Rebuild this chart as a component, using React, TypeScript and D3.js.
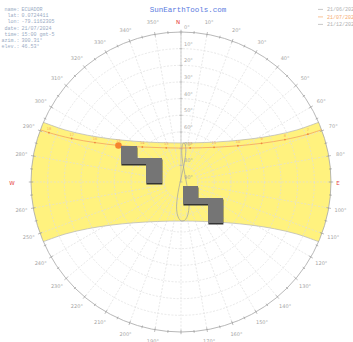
import React from 'react';
import * as d3 from 'd3';

// ---------- data ----------
const infoLabels = ['name:', 'lat:', 'lon:', 'date:', 'time:', 'azim.:', 'elev.:'];
const infoValues = ['ECUADOR', '0.0724411', '-79.1162305', '21/07/2024', '15:00 gmt-5', '300.31°', '46.53°'];
const legendDates = ['21/06/2024', '21/07/2024', '21/12/2024'];
const title = 'SunEarthTools.com';

const latitude = 0.0724411;
// analemma clock offset (min)
const analemmaOffsetMin = -5.5;

// June solstice path (azimuth, elevation), east -> west
const juneAz = [66.56, 65.82, 63.41, 58.49, 49.07, 30.84, 0, 329.16, 310.93, 301.51, 296.59, 294.18, 293.44];
const juneEl = [0, 13.74, 27.31, 40.45, 52.62, 62.41, 66.56, 62.41, 52.62, 40.45, 27.31, 13.74, 0];
// December solstice path, east -> west
const decAz = [113.44, 114.18, 116.59, 121.51, 130.93, 149.16, 180, 210.84, 229.07, 238.49, 243.41, 245.82, 246.56];
const decEl = [0, 13.74, 27.31, 40.45, 52.62, 62.41, 66.56, 62.41, 52.62, 40.45, 27.31, 13.74, 0];
// current date path (21/07) at clock hours
const curHours = [null, 7, 8, 9, 10, 11, 12, 13, 14, 15, 16, 17, 18, null];
const curAz = [69.6, 69.36, 67.81, 64.35, 57.52, 43.61, 15.08, 336.63, 312.16, 300.31, 294.62, 291.69, 290.49, 290.4];
const curEl = [0, 8.66, 22.64, 36.36, 49.52, 61.23, 68.85, 67.68, 58.72, 46.53, 33.2, 19.4, 5.39, 0];
const sunNow = { az: 300.31, el: 46.53 };

// analemma (declination °, equation of time min), twice a month
const anaDecl = [-23.0, -21.0, -17.1, -12.8, -7.8, -2.0, 4.4, 10.0, 15.0, 19.0, 22.0, 23.35, 23.1, 21.4, 18.0, 13.7, 8.3, 2.7, -3.1, -8.9, -14.4, -18.7, -21.8, -23.3];
const anaEot = [-3.2, -9.5, -13.5, -14.2, -12.4, -8.8, -4.0, 0.1, 2.9, 3.6, 2.2, -0.4, -3.7, -6.0, -6.3, -4.3, 0.0, 5.1, 10.2, 14.3, 16.4, 15.2, 11.0, 4.4];

// obstacle outlines in plane degrees (x east, y south) from the zenith
const obstacle1 = [[-36, -21.6], [-26.4, -21.6], [-26.4, -14.4], [-11.4, -14.4], [-11.4, 0.6], [-21, 0.6], [-21, -10.8], [-36, -10.8]];
const obstacle2 = [[1.2, 2.4], [10.2, 2.4], [10.2, 9.6], [25.2, 9.6], [25.2, 24.6], [16.2, 24.6], [16.2, 13.2], [1.2, 13.2]];

const ringEls = [10, 20, 30, 40, 50, 60, 70, 80];
const elevLabels = [0, 10, 20, 30, 40, 50, 60, 70, 80, 90];
const azLabelSteps = d3.range(0, 360, 10);
const azTicks = d3.range(0, 360, 5);

// ---------- layout ----------
const W = 353, H = 342;
const cx = 181, cy = 182, R = 150;
const rScale = d3.scaleLinear().domain([90, 0]).range([0, R]);
const xPlane = d3.scaleLinear().domain([-90, 90]).range([cx - R, cx + R]);
const yPlane = d3.scaleLinear().domain([-90, 90]).range([cy - R, cy + R]);
const rad = Math.PI / 180;

function proj(az: number, el: number): [number, number] {
  const r = rScale(el);
  return [cx + r * Math.sin(az * rad), cy - r * Math.cos(az * rad)];
}
function polar(az: number, r: number): [number, number] {
  return [cx + r * Math.sin(az * rad), cy - r * Math.cos(az * rad)];
}
function horizontal(decl: number, hourAngle: number) {
  const d = decl * rad, h = hourAngle * rad, p = latitude * rad;
  const up = Math.sin(p) * Math.sin(d) + Math.cos(p) * Math.cos(d) * Math.cos(h);
  const north = Math.cos(p) * Math.sin(d) - Math.sin(p) * Math.cos(d) * Math.cos(h);
  const east = -Math.cos(d) * Math.sin(h);
  const el = Math.asin(up) / rad;
  let az = Math.atan2(east, north) / rad;
  if (az < 0) az += 360;
  return { az, el };
}

const lineCR = d3.line<[number, number]>().x(d => d[0]).y(d => d[1]).curve(d3.curveCatmullRom.alpha(0.5));
const lineClosed = d3.line<[number, number]>().x(d => d[0]).y(d => d[1]).curve(d3.curveCatmullRomClosed.alpha(0.5));

const junePts = juneAz.map((a, i) => proj(a, juneEl[i]));
const decPts = decAz.map((a, i) => proj(a, decEl[i]));
const curPts = curAz.map((a, i) => proj(a, curEl[i]));

const juneD = lineCR(junePts) as string;
const decRevD = (lineCR(decPts.slice().reverse()) as string).replace(/^M/, 'L');
const wStart = decPts[decPts.length - 1];
const eEnd = junePts[0];
const bandD = `${juneD} A ${R} ${R} 0 0 0 ${wStart[0]} ${wStart[1]} ${decRevD} A ${R} ${R} 0 0 0 ${eEnd[0]} ${eEnd[1]} Z`;

const anaPts = anaDecl.map((dcl, i) => {
  const hp = horizontal(dcl, (anaEot[i] + analemmaOffsetMin) / 4);
  return proj(hp.az, hp.el);
});

const polyPts = (pts: number[][], dx = 0, dy = 0) =>
  pts.map(p => `${xPlane(p[0]) + dx},${yPlane(p[1]) + dy}`).join(' ');

const labelFont = 'DejaVu Sans, sans-serif';
const monoFont = 'Liberation Mono, DejaVu Sans Mono, monospace';

export default function App() {
  const sun = proj(sunNow.az, sunNow.el);
  return (
    <svg width={W} height={H} viewBox={`0 0 ${W} ${H}`} style={{ position: 'absolute', left: 0, top: 0, background: '#fff' }}>
      <rect x={0} y={0} width={W} height={H} fill="#fff" />

      {/* sun band */}
      <path d={bandD} fill="#fff27e" stroke="none" />

      {/* grid rings */}
      {ringEls.map(e => (
        <circle key={e} cx={cx} cy={cy} r={rScale(e)} fill="none" stroke="#dedede" strokeWidth={0.7} strokeDasharray="2,1.5" />
      ))}
      {/* radial lines */}
      {azLabelSteps.map(a => {
        const p1 = polar(a, rScale(80));
        const p2 = polar(a, R);
        return <line key={a} x1={p1[0]} y1={p1[1]} x2={p2[0]} y2={p2[1]} stroke="#dedede" strokeWidth={0.7} strokeDasharray="2,1.5" />;
      })}

      {/* band edges */}
      <path d={juneD} fill="none" stroke="#b4b4b4" strokeWidth={0.7} />
      <path d={lineCR(decPts) as string} fill="none" stroke="#b4b4b4" strokeWidth={0.7} />

      {/* outer circle */}
      <circle cx={cx} cy={cy} r={R} fill="none" stroke="#a6a6a6" strokeWidth={0.8} />
      {azTicks.map(a => {
        const len = a % 10 === 0 ? 2.2 : 1.4;
        const p1 = polar(a, R - len);
        const p2 = polar(a, R + len);
        return <line key={a} x1={p1[0]} y1={p1[1]} x2={p2[0]} y2={p2[1]} stroke="#8c8c8c" strokeWidth={0.6} />;
      })}

      {/* vertical elevation axis */}
      <line x1={cx} y1={cy} x2={cx} y2={cy - R} stroke="#bbb" strokeWidth={0.7} />
      {elevLabels.map(e => {
        const y = cy - rScale(e);
        return (
          <g key={e}>
            <line x1={cx - 1.5} x2={cx + 1.5} y1={y} y2={y} stroke="#aaa" strokeWidth={0.6} />
            <text x={cx + 3} y={y - 3} fontSize={5} fill="#aaa" fontFamily={labelFont}>{`${e}°`}</text>
          </g>
        );
      })}

      {/* azimuth labels */}
      {azLabelSteps.filter(a => a % 90 !== 0).map(a => {
        const p = polar(a, R + 12);
        return <text key={a} x={p[0]} y={p[1] + 1.8} fontSize={5} fill="#a5a5a5" textAnchor="middle" fontFamily={labelFont}>{`${a}°`}</text>;
      })}
      <text x={178} y={24} fontSize={5.5} fill="#e53935" textAnchor="middle" fontFamily={labelFont}>N</text>
      <text x={338} y={185} fontSize={5.5} fill="#e53935" textAnchor="middle" fontFamily={labelFont}>E</text>
      <text x={12} y={185} fontSize={5.5} fill="#e53935" textAnchor="middle" fontFamily={labelFont}>W</text>

      {/* analemma */}
      <path d={lineClosed(anaPts) as string} fill="none" stroke="#a0a0a0" strokeWidth={0.7} />

      {/* current day path */}
      <path d={lineCR(curPts) as string} fill="none" stroke="#f4a261" strokeWidth={0.8} />
      {curPts.map((p, i) => curHours[i] === null ? null : (
        <g key={i}>
          <circle cx={p[0]} cy={p[1]} r={0.9} fill="#f08a3c" />
          <text x={p[0]} y={p[1] - 3} fontSize={3.5} fill="#f4a261" textAnchor="middle" fontFamily={labelFont}>{curHours[i]}</text>
        </g>
      ))}
      <circle cx={sun[0]} cy={sun[1]} r={3.3} fill="#f5842f" />

      {/* obstacles */}
      <polygon points={polyPts(obstacle1, 0.4, 1.4)} fill="#333" />
      <polygon points={polyPts(obstacle1)} fill="#757575" />
      <polygon points={polyPts(obstacle2, 0.4, 1.4)} fill="#333" />
      <polygon points={polyPts(obstacle2)} fill="#757575" />

      {/* title */}
      <text x={188} y={12} fontSize={7.5} fill="#5b7be0" textAnchor="middle" fontFamily={monoFont}>{title}</text>

      {/* info */}
      {infoLabels.map((l, i) => (
        <g key={l}>
          <text x={19.5} y={11 + i * 6.2} fontSize={5} fill="#9aabc4" textAnchor="end" fontFamily={monoFont}>{l}</text>
          <text x={21.5} y={11 + i * 6.2} fontSize={5} fill="#9aabc4" fontFamily={monoFont}>{infoValues[i]}</text>
        </g>
      ))}

      {/* legend */}
      {legendDates.map((d, i) => {
        const color = i === 1 ? '#f6ab6e' : '#b0b0b0';
        const y = 11 + i * 7.5;
        return (
          <g key={d}>
            <line x1={318} x2={323} y1={y - 1.6} y2={y - 1.6} stroke={color} strokeWidth={0.7} />
            <text x={327} y={y} fontSize={5} fill={color} fontFamily={monoFont}>{d}</text>
          </g>
        );
      })}
    </svg>
  );
}
